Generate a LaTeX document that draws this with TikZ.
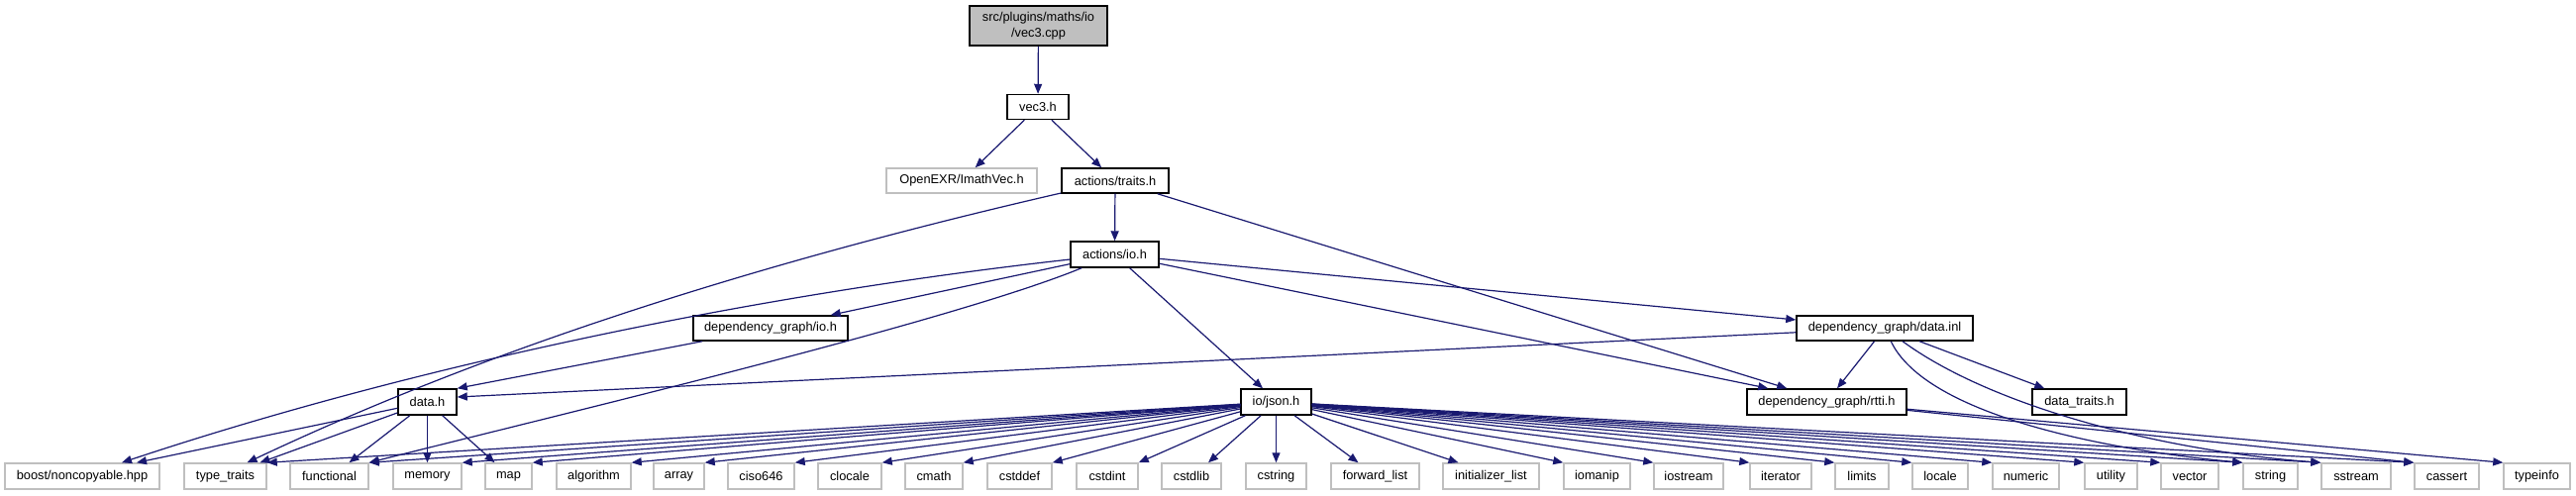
\documentclass[tikz,border=0pt]{standalone}
\usepackage{fontspec}
\setmainfont{Liberation Sans}
\usetikzlibrary{arrows.meta,calc}
\definecolor{edgeblue}{HTML}{191970}
\definecolor{grayfill}{HTML}{BFBFBF}
\begin{document}
\begin{tikzpicture}[x=0.75pt,y=-0.75pt,
  every node/.style={font=\fontsize{9.6}{12}\selectfont, inner sep=0pt},
  mainbox/.style={draw=black, line width=1.1pt, fill=white},
  sysbox/.style={draw=grayfill, line width=1.1pt, fill=white},
  sz/.style 2 args={minimum width=#1*0.75pt, minimum height=#2*0.75pt},
  edge/.style={draw=edgeblue, line width=0.9pt, -{Triangle[length=7.5pt,width=6pt]}}]
\fill[white] (0,0) rectangle (2601,500);
\useasboundingbox (0,0) rectangle (2601,500);
% upper nodes
\node[mainbox, fill=grayfill, sz={139}{40}, align=center] (top) at (1048.5,26) {src/plugins/maths/io\\/vec3.cpp};
\node[mainbox, sz={62}{25}] (vec3) at (1048,108) {vec3.h};
\node[sysbox, sz={152}{25}] (exr) at (971,182.5) {OpenEXR/ImathVec.h};
\node[mainbox, sz={108}{25}] (traits) at (1126,182.5) {actions/traits.h};
\node[mainbox, sz={89}{26}] (io) at (1125.5,257) {actions/io.h};
\node[mainbox, sz={156}{25}] (depio) at (778,331.5) {dependency\_graph/io.h};
\node[mainbox, sz={178}{25}] (dinl) at (1903,331.5) {dependency\_graph/data.inl};
\node[mainbox, sz={59}{26}] (datah) at (431.5,406) {data.h};
\node[mainbox, sz={71}{26}] (json) at (1288.5,406) {io/json.h};
\node[mainbox, sz={161}{26}] (rtti) at (1844.5,406) {dependency\_graph/rtti.h};
\node[mainbox, sz={95}{26}] (dtraits) at (2099.5,406) {data\_traits.h};
% bottom row
\node[sysbox, sz={156}{26}] (boost) at (83,481) {boost/noncopyable.hpp};
\node[sysbox, sz={83}{26}] (tt) at (227.5,481) {type\_traits};
\node[sysbox, sz={79}{26}] (func) at (332.5,481) {functional};
\node[sysbox, sz={69}{26}] (mem) at (431.5,481) {memory};
\node[sysbox, sz={47}{26}] (map) at (513.5,481) {map};
\node[sysbox, sz={75}{26}] (algo) at (599.5,481) {algorithm};
\node[sysbox, sz={51}{26}] (arr) at (685.5,481) {array};
\node[sysbox, sz={67}{26}] (ciso) at (768.5,481) {ciso646};
\node[sysbox, sz={64}{26}] (cloc) at (858,481) {clocale};
\node[sysbox, sz={58}{26}] (cmath) at (943,481) {cmath};
\node[sysbox, sz={65}{26}] (cstddef) at (1029.5,481) {cstddef};
\node[sysbox, sz={62}{26}] (cstdint) at (1118,481) {cstdint};
\node[sysbox, sz={60}{26}] (cstdlib) at (1203,481) {cstdlib};
\node[sysbox, sz={61}{26}] (cstring) at (1288.5,481) {cstring};
\node[sysbox, sz={89}{26}] (fl) at (1388.5,481) {forward\_list};
\node[sysbox, sz={97}{26}] (il) at (1505.5,481) {initializer\_list};
\node[sysbox, sz={67}{26}] (iomanip) at (1612.5,481) {iomanip};
\node[sysbox, sz={70}{26}] (iostream) at (1705,481) {iostream};
\node[sysbox, sz={62}{26}] (iter) at (1798,481) {iterator};
\node[sysbox, sz={54}{26}] (limits) at (1880,481) {limits};
\node[sysbox, sz={56}{26}] (locale) at (1959,481) {locale};
\node[sysbox, sz={67}{26}] (numeric) at (2045.5,481) {numeric};
\node[sysbox, sz={53}{26}] (utility) at (2131.5,481) {utility};
\node[sysbox, sz={58}{26}] (vector) at (2211,481) {vector};
\node[sysbox, sz={55}{26}] (string) at (2292.5,481) {string};
\node[sysbox, sz={70}{26}] (sstream) at (2379,481) {sstream};
\node[sysbox, sz={65}{26}] (cassert) at (2470.5,481) {cassert};
\node[sysbox, sz={67}{26}] (typeinfo) at (2561.5,481) {typeinfo};
% edges
\draw[edge] (top) -- (vec3);
\draw[edge] (vec3) -- (exr);
\draw[edge] (vec3) -- (traits);
\draw[edge] (traits) -- (io);
\draw[edge] (traits) .. controls (680,285) and (430,382) .. ($(tt.north)+(22,0)$);
\draw[edge] (traits) -- ($(rtti.north west)+(41,0)$);
\draw[edge] (io) .. controls (740,300) and (400,375) .. ($(boost.north)+(40,0)$);
\draw[edge] (io) -- ($(depio.north east)+(-18,0)$);
\draw[edge] (io) .. controls (960,325) and (560,420) .. (func.north east);
\draw[edge] (io) -- ($(json.north)+(-13.5,0)$);
\draw[edge] (io) -- ($(rtti.north west)+(22,0)$);
\draw[edge] (io) -- ($(dinl.west)+(0,-8.5)$);
\draw[edge] (depio) -- (datah.north east);
\draw[edge] (dinl) -- ($(datah.east)+(0,-5)$);
\draw[edge] (dinl) -- ($(rtti.north)+(10.5,0)$);
\draw[edge] (dinl) -- ($(dtraits.north west)+(13,0)$);
\draw[edge] (dinl) .. controls (1945,420) and (2130,455) .. (string.north west);
\draw[edge] (dinl) .. controls (2010,410) and (2180,455) .. (sstream.north west);
\draw[edge] (datah) -- ($(boost.north)+(55,0)$);
\draw[edge] (datah) -- ($(tt.north)+(35,0)$);
\draw[edge] (datah) -- ($(func.north)+(20,0)$);
\draw[edge] (datah) -- (mem.north);
\draw[edge] (datah) -- ($(map.north)+(-14,0)$);
\foreach \t in {tt,func,mem,map,algo,arr,ciso,cloc,cmath,cstddef,cstdint}
  \draw[edge] (json) -- (\t.north east);
\draw[edge] (json) -- ($(cstdlib.north)+(17,0)$);
\draw[edge] (json) -- (cstring);
\draw[edge] (json) -- ($(fl.north)+(-17,0)$);
\draw[edge] (json) -- ($(il.north)+(-33,0)$);
\foreach \t in {iomanip,iostream,iter,limits,locale,numeric,utility,vector,string,sstream,cassert}
  \draw[edge] (json) -- (\t.north west);
\draw[edge] (rtti) -- (cassert.north west);
\draw[edge] (rtti) -- (typeinfo.north west);
\end{tikzpicture}
\end{document}
